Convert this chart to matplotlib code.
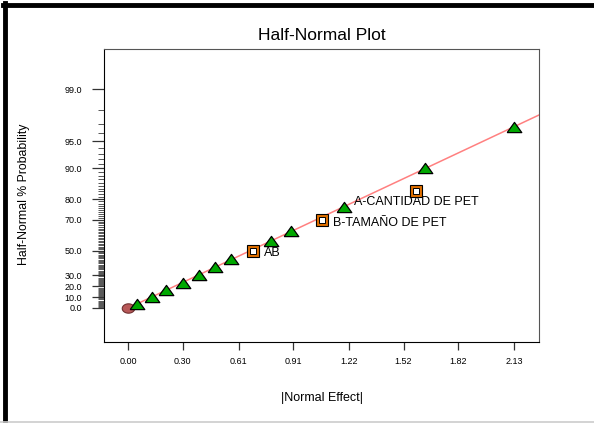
import numpy as np
import matplotlib
matplotlib.use("Agg")
import matplotlib.pyplot as plt
from matplotlib.lines import Line2D
from statistics import NormalDist

plt.rcParams['font.family'] = ['Liberation Sans', 'DejaVu Sans']

# 数据
effects = [0.05, 0.13, 0.21, 0.30, 0.39, 0.48, 0.57, 0.79, 0.90, 1.19, 1.64, 2.13]
probs = [3.3, 10.0, 16.7, 23.3, 30.0, 36.7, 43.3, 56.7, 63.3, 76.7, 90.0, 96.7]

chosen_names = ['AB', 'B-TAMAÑO DE PET', 'A-CANTIDAD DE PET']
chosen_effects = [0.69, 1.07, 1.59]
chosen_probs = [50.0, 70.0, 83.3]

error_effect = [0.0]
error_prob = [0.0]

fit_effect = [0.0, 2.27]
fit_prob = [0.0, 97.7]

xticks = [0.00, 0.30, 0.61, 0.91, 1.22, 1.52, 1.82, 2.13]
xticklabels = ['0.00', '0.30', '0.61', '0.91', '1.22', '1.52', '1.82', '2.13']
yticks = [0.0, 10.0, 20.0, 30.0, 50.0, 70.0, 80.0, 90.0, 95.0, 99.0]

nd = NormalDist()


# 半正态概率刻度
def hn_forward(p):
    p = np.asarray(p, dtype=float)
    a = np.clip(np.abs(p) / 100.0, 0, 0.9999999)
    z = np.array([nd.inv_cdf(0.5 + v / 2) for v in a.ravel()]).reshape(a.shape)
    return np.sign(p) * z


def hn_inverse(z):
    z = np.asarray(z, dtype=float)
    a = np.abs(z)
    p = np.array([2 * nd.cdf(v) - 1 for v in a.ravel()]).reshape(a.shape)
    return np.sign(z) * p * 100.0


# 扁一点的三角形和椭圆标记
tri = [(-1, -0.7), (1, -0.7), (0, 0.7), (-1, -0.7)]
t = np.linspace(0, 2 * np.pi, 40)
ell = list(zip(np.cos(t), 0.75 * np.sin(t)))

fig = plt.figure(figsize=(5.94, 4.23), dpi=100)
ax = fig.add_axes([0.1751, 0.1915, 0.7323, 0.6927])
ax.set_yscale('function', functions=(hn_forward, hn_inverse))
ax.set_xlim(-0.134, 2.268)
ax.set_ylim(-31.1, 99.77)

ax.plot(fit_effect, fit_prob, color='#ff8080', lw=1.1, zorder=2)
ax.plot(error_effect, error_prob, marker=ell, ls='none', ms=9, mfc='#b85858', mec='#703030', mew=0.8, zorder=3)
ax.plot(effects, probs, marker=tri, ls='none', ms=10.5, mfc='#00a800', mec='black', mew=0.9, zorder=4)
ax.plot(chosen_effects, chosen_probs, 's', ms=8, mfc='#e07000', mec='black', mew=0.8, zorder=4)
ax.plot(chosen_effects, chosen_probs, 's', ms=4, mfc='white', mec='black', mew=0.7, zorder=5)

offsets = [(8, -2), (8, -2), (-45, -8.5)]
for name, x, y, off in zip(chosen_names, chosen_effects, chosen_probs, offsets):
    ax.annotate(name, xy=(x, y), xytext=off, textcoords='offset points',
                ha='left', va='center', fontsize=9)

ax.set_xticks(xticks)
ax.set_xticklabels(xticklabels)
ax.set_yticks(yticks)
ax.set_yticklabels(['%.1f' % v for v in yticks])
ax.set_yticks(np.arange(1, 99), minor=True)
ax.tick_params(axis='both', labelsize=6.5, width=0.9, color='#333333')
ax.tick_params(axis='y', which='major', length=9, pad=7)
ax.tick_params(axis='y', which='minor', length=4.5, width=0.7, color='#555555')
ax.tick_params(axis='x', which='major', length=6, pad=5)
ax.tick_params(axis='x', which='minor', bottom=False)

for s in ['left', 'bottom']:
    ax.spines[s].set_color('black')
for s in ['top', 'right']:
    ax.spines[s].set_color('#555555')

fig.text(0.542, 0.915, 'Half-Normal Plot', ha='center', va='center', fontsize=12.5)
fig.text(0.542, 0.059, '|Normal Effect|', ha='center', va='center', fontsize=9)
fig.text(0.040, 0.54, 'Half-Normal % Probability', ha='center', va='center',
         rotation=90, fontsize=8.8)

# 外框
fig.add_artist(Line2D([0.005, 1.0], [0.988, 0.988], color='black', lw=3.5))
fig.add_artist(Line2D([0.0085, 0.0085], [0.0, 0.992], color='black', lw=3.5))
fig.add_artist(Line2D([0.0, 1.0], [0.003, 0.003], color='#cccccc', lw=1.2))

fig.savefig('out.png', dpi=100)
